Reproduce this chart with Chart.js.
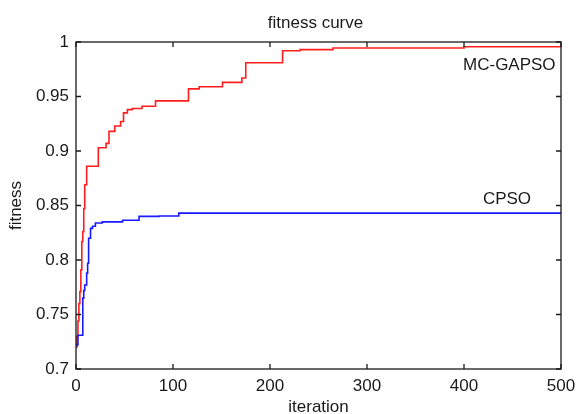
<!DOCTYPE html>
<html>
<head>
<meta charset="utf-8">
<script src="https://cdn.jsdelivr.net/npm/chart.js@4/dist/chart.umd.min.js"></script>
<style>
  html, body { margin: 0; padding: 0; background: #fff; }
  #wrap { width: 577px; height: 414px; }
</style>
</head>
<body>
<div id="wrap"><canvas id="c" width="577" height="414"></canvas></div>
<script>
// Best fitness per iteration (step changes: [iteration, fitness])
const mcgapsoIter = [0, 1, 2, 3, 4, 5, 6, 7, 8, 9, 11, 23, 31, 34, 40, 46, 49, 53, 58, 68, 82, 116, 127, 151, 171, 175, 213, 231, 265, 400, 500];
const mcgapsoFit  = [0.720, 0.730, 0.744, 0.760, 0.771, 0.791, 0.817, 0.826, 0.847, 0.869, 0.886, 0.903, 0.907, 0.918, 0.923, 0.927, 0.935, 0.938, 0.939, 0.941, 0.946, 0.957, 0.959, 0.963, 0.967, 0.981, 0.992, 0.993, 0.9945, 0.9957, 0.9957];

const cpsoIter = [0, 2, 7, 8, 9, 11, 12, 13, 15, 17, 20, 27, 48, 65, 86, 106, 500];
const cpsoFit  = [0.722, 0.731, 0.765, 0.772, 0.777, 0.788, 0.797, 0.820, 0.829, 0.831, 0.834, 0.835, 0.8365, 0.840, 0.8404, 0.843, 0.843];

// Axis ticks
const xTicks = [0, 100, 200, 300, 400, 500];
const yTicks = [0.7, 0.75, 0.8, 0.85, 0.9, 0.95, 1];
const yTickLabels = ['0.7', '0.75', '0.8', '0.85', '0.9', '0.95', '1'];

// Text
const titleText = 'fitness curve';
const xTitle = 'iteration';
const yTitle = 'fitness';
// Series name labels placed in data space: [name, iteration, fitness]
const seriesNames = [['MC-GAPSO', 399, 0.9743], ['CPSO', 419.5, 0.8514]];

const FAMILY = '"Liberation Sans", Arial, sans-serif';
const FONT = '17px ' + FAMILY;
const INK = '#1a1a1a';

function toPoints(xs, ys) { return xs.map((x, i) => ({ x: x, y: ys[i] })); }

// Box frame, inward ticks, title, axis titles and series names
const frame = {
  id: 'frame',
  afterDatasetsDraw(chart) {
    const { ctx, chartArea: a, scales } = chart;
    const xs = scales.x, ys = scales.y;
    ctx.save();
    ctx.strokeStyle = INK;
    ctx.lineWidth = 1.3;
    ctx.strokeRect(a.left, a.top, a.right - a.left, a.bottom - a.top);
    const tl = 5;
    ctx.beginPath();
    xTicks.forEach(v => {
      const px = xs.getPixelForValue(v);
      ctx.moveTo(px, a.bottom); ctx.lineTo(px, a.bottom - tl);
      ctx.moveTo(px, a.top); ctx.lineTo(px, a.top + tl);
    });
    yTicks.forEach(v => {
      const py = ys.getPixelForValue(v);
      ctx.moveTo(a.left, py); ctx.lineTo(a.left + tl, py);
      ctx.moveTo(a.right, py); ctx.lineTo(a.right - tl, py);
    });
    ctx.stroke();

    ctx.fillStyle = INK;
    ctx.font = FONT;
    ctx.textBaseline = 'alphabetic';
    ctx.textAlign = 'center';
    ctx.fillText(titleText, (a.left + a.right) / 2 - 3, 28);
    ctx.fillText(xTitle, (a.left + a.right) / 2, 412);
    ctx.save();
    ctx.translate(21, (a.top + a.bottom) / 2);
    ctx.rotate(-Math.PI / 2);
    ctx.fillText(yTitle, 0, 0);
    ctx.restore();

    ctx.textAlign = 'left';
    seriesNames.forEach(([name, ix, fy]) => {
      ctx.fillText(name, xs.getPixelForValue(ix), ys.getPixelForValue(fy));
    });
    ctx.restore();
  }
};

new Chart(document.getElementById('c'), {
  type: 'line',
  data: {
    datasets: [
      {
        label: 'CPSO',
        data: toPoints(cpsoIter, cpsoFit),
        borderColor: 'rgb(25,25,255)',
        borderWidth: 1.6,
        stepped: 'before',
        pointRadius: 0,
        fill: false
      },
      {
        label: 'MC-GAPSO',
        data: toPoints(mcgapsoIter, mcgapsoFit),
        borderColor: 'rgb(255,30,30)',
        borderWidth: 1.6,
        stepped: 'before',
        pointRadius: 0,
        fill: false
      }
    ]
  },
  options: {
    responsive: false,
    animation: false,
    events: [],
    layout: { padding: { left: 0, right: 16, top: 42, bottom: 0 } },
    plugins: { legend: { display: false }, tooltip: { enabled: false }, title: { display: false } },
    scales: {
      x: {
        type: 'linear',
        min: 0, max: 500,
        grid: { display: false, drawTicks: false },
        border: { display: false },
        afterFit(s) { s.height = 45; s.paddingLeft = 0; s.paddingRight = 0; },
        afterBuildTicks(s) { s.ticks = xTicks.map(v => ({ value: v })); },
        ticks: {
          color: INK,
          font: { family: FAMILY, size: 17 },
          padding: 7,
          maxRotation: 0,
          autoSkip: false,
          callback: v => String(v)
        }
      },
      y: {
        type: 'linear',
        min: 0.7, max: 1,
        grid: { display: false, drawTicks: false },
        border: { display: false },
        afterFit(s) { s.width = 76; s.paddingTop = 0; s.paddingBottom = 0; },
        afterBuildTicks(s) { s.ticks = yTicks.map(v => ({ value: v })); },
        ticks: {
          color: INK,
          font: { family: FAMILY, size: 17 },
          padding: 7,
          autoSkip: false,
          callback: v => yTickLabels[yTicks.findIndex(t => Math.abs(t - v) < 1e-9)]
        }
      }
    }
  },
  plugins: [frame]
});
</script>
</body>
</html>
